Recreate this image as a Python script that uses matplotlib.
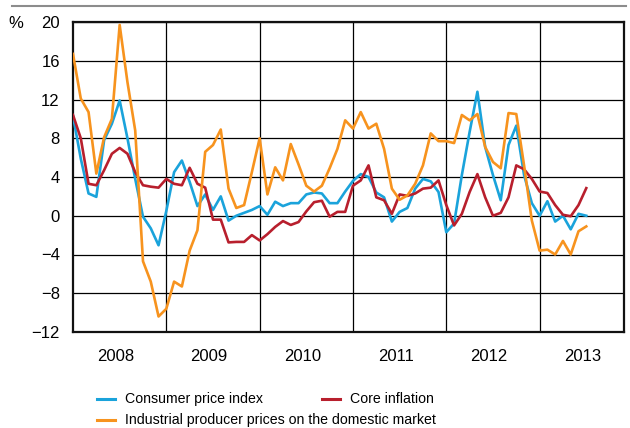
import matplotlib
matplotlib.use("Agg")
import matplotlib.pyplot as plt
from matplotlib.lines import Line2D
import numpy as np

plt.rcParams['font.family'] = ['Liberation Sans', 'DejaVu Sans']

# Monthly data, Jan 2008 .. Jul 2013 (year-on-year %)
cpi = [10.3, 5.9, 2.3, 1.95, 7.8, 9.5, 11.9, 8.0, 3.8, -0.1, -1.3, -3.05,
       0.5, 4.5, 5.7, 3.5, 1.0, 2.2, 0.6, 2.0, -0.5, 0.0, 0.3, 0.6,
       1.0, 0.1, 1.45, 1.0, 1.3, 1.3, 2.2, 2.4, 2.3, 1.3, 1.3, 2.5,
       3.6, 4.3, 4.0, 2.4, 1.9, -0.6, 0.4, 0.8, 2.8, 3.8, 3.55, 2.45,
       -1.7, -0.8, 4.2, 8.65, 12.8, 7.1, 4.2, 1.6, 7.3, 9.3, 4.2, 1.3,
       0.0, 1.5, -0.6, 0.0, -1.4, 0.2, 0.0]
core = [10.4, 8.0, 3.3, 3.15, 4.7, 6.4, 7.0, 6.4, 4.5, 3.15, 3.0, 2.9,
        3.8, 3.3, 3.15, 4.95, 3.3, 2.9, -0.4, -0.4, -2.75, -2.7, -2.7, -2.0,
        -2.55, -1.9, -1.15, -0.55, -0.95, -0.65, 0.45, 1.4, 1.55, -0.1, 0.4, 0.4,
        3.1, 3.65, 5.2, 1.9, 1.6, 0.2, 2.2, 2.05, 2.3, 2.8, 2.9, 3.65,
        1.1, -1.0, 0.2, 2.45, 4.3, 1.9, 0.0, 0.3, 1.9, 5.2, 4.8, 3.8,
        2.5, 2.35, 1.1, 0.1, -0.05, 1.1, 2.85]
ppi = [16.7, 12.1, 10.7, 4.35, 8.1, 10.0, 19.7, 13.8, 8.8, -4.7, -6.8, -10.4,
       -9.6, -6.8, -7.3, -3.6, -1.5, 6.6, 7.3, 8.9, 2.8, 0.8, 1.1, 4.5,
       8.0, 2.2, 5.0, 3.65, 7.4, 5.3, 3.1, 2.5, 3.1, 4.9, 6.9, 9.85,
       9.0, 10.7, 9.0, 9.5, 6.9, 2.8, 1.65, 2.1, 3.3, 5.2, 8.5, 7.7,
       7.7, 7.5, 10.4, 9.85, 10.5, 7.1, 5.55, 4.9, 10.6, 10.5, 5.2, -0.5,
       -3.6, -3.5, -4.0, -2.6, -4.0, -1.6, -1.1]
years = ['2008', '2009', '2010', '2011', '2012', '2013']
yticks = [-12, -8, -4, 0, 4, 8, 12, 16, 20]
series_labels = ['Consumer price index', 'Core inflation',
                 'Industrial producer prices on the domestic market']

c_cpi = '#1aa3db'
c_core = '#b81f2d'
c_ppi = '#f7931e'

W, H = 630, 428
fig = plt.figure(figsize=(W / 100, H / 100), dpi=100)
ax = fig.add_axes([73 / W, 1 - 332 / H, (624 - 73) / W, (332 - 22) / H])

x = np.arange(len(cpi))
lw = 1.9
ax.plot(x, cpi, color=c_cpi, lw=lw, zorder=3)
ax.plot(x, core, color=c_core, lw=lw, zorder=3)
ax.plot(x, ppi, color=c_ppi, lw=lw, zorder=4)

ax.set_xlim(0, 70.85)
ax.set_ylim(-12, 20)
ax.set_yticks(yticks)
ax.set_yticklabels([str(v).replace('-', '\u2212') for v in yticks])
ax.yaxis.grid(True, color='black', lw=0.9)
for k in range(1, len(years)):
    ax.axvline(12 * k, color='black', lw=0.9, zorder=1)
ax.set_xticks([5.5 + 12 * k for k in range(len(years))])
ax.set_xticklabels(years)
ax.tick_params(axis='both', length=0, labelsize=12)
ax.tick_params(axis='y', pad=9.5)
ax.tick_params(axis='x', pad=12)
for s in ax.spines.values():
    s.set_linewidth(1.6)
    s.set_color('#111111')
ax.set_axisbelow(True)

# % label
fig.text(15.5 / W, 1 - 24 / H, '%', ha='center', va='center', fontsize=12)

# top grey rule
fig.add_artist(Line2D([12 / W, 626 / W], [1 - 6 / H, 1 - 6 / H], color='#8c8c8c', lw=1.5))

# legend (manual)
def leg(x0, y0, color, label):
    fig.add_artist(Line2D([x0 / W, (x0 + 18) / W], [1 - y0 / H, 1 - y0 / H], color=color, lw=2.2))
    fig.text((x0 + 28) / W, 1 - y0 / H, label, ha='left', va='center', fontsize=10.2)

leg(97, 399, c_cpi, series_labels[0])
leg(322, 399, c_core, series_labels[1])
leg(97, 420, c_ppi, series_labels[2])

fig.savefig('out.png', dpi=100)
